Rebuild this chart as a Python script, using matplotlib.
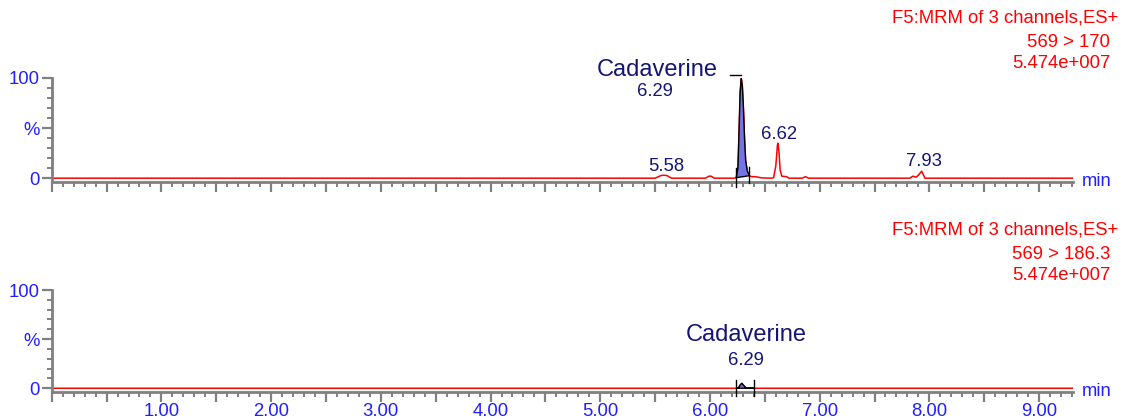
import matplotlib
matplotlib.use('Agg')
import matplotlib.pyplot as plt
from matplotlib.ticker import MultipleLocator

plt.rcParams['font.family'] = ['Liberation Sans', 'DejaVu Sans']

# channel 569 > 170 (top trace)
top_t = [0.00, 5.50, 5.55, 5.58, 5.61, 5.65, 5.96, 5.99, 6.01, 6.04,
         6.22, 6.24, 6.255, 6.265, 6.275, 6.285, 6.295, 6.305, 6.315, 6.325,
         6.34, 6.36, 6.38, 6.41, 6.44, 6.47, 6.56, 6.58, 6.60, 6.615,
         6.62, 6.63, 6.64, 6.655, 6.70, 6.72, 6.84, 6.87, 6.90, 7.82,
         7.85, 7.88, 7.90, 7.93, 7.96, 9.31]
top_y = [0, 0, 2.5, 3, 2.5, 0, 0, 2, 2, 0,
         0, 0.5, 10, 45, 85, 100, 92, 70, 40, 18,
         7, 2.5, 1.5, 1.5, 1.0, 0.3, 0, 0.5, 12, 33,
         35, 25, 8, 2, 1.5, 0, 0, 1.5, 0, 0,
         2, 1, 3, 7, 0, 0]

# channel 569 > 186.3 (bottom trace)
bot_t = [0.00, 6.24, 6.26, 6.27, 6.29, 6.31, 6.33, 6.40, 9.31]
bot_y = [0, 0, 0, 2.5, 5, 2.5, 0, 0, 0]

# integrated peak windows
top_peak = (6.24, 6.36)
bot_peak = (6.24, 6.40)

# peak labels: (time, height, text)
top_labels = [(5.60, 7, '5.58'), (6.63, 39, '6.62'), (7.95, 12, '7.93')]

headers = [('F5:MRM of 3 channels,ES+', '569 > 170', '5.474e+007'),
           ('F5:MRM of 3 channels,ES+', '569 > 186.3', '5.474e+007')]

x_ticks = [1, 2, 3, 4, 5, 6, 7, 8, 9]
x_ticklabels = ['1.00', '2.00', '3.00', '4.00', '5.00', '6.00', '7.00', '8.00', '9.00']

gray = '#808080'
blue = '#1f1fff'
navy = '#151575'
fill_col = '#7474e8'


def style_axes(ax, show_xlabels):
    ax.set_xlim(0, 9.31)
    ax.set_ylim(-3.5, 100)
    for s in ('top', 'right'):
        ax.spines[s].set_visible(False)
    for s in ('left', 'bottom'):
        ax.spines[s].set_color(gray)
        ax.spines[s].set_linewidth(2)
    ax.spines['left'].set_bounds(-3.5, 100)
    ax.xaxis.set_minor_locator(MultipleLocator(0.1))
    ax.set_yticks([0, 50, 100])
    ax.set_yticklabels(['0', '%', '100'])
    ax.yaxis.set_minor_locator(MultipleLocator(10))
    ax.tick_params(which='major', length=7, width=1.6, color=gray,
                   labelcolor=blue, labelsize=13.3, pad=1.5)
    ax.tick_params(which='minor', length=3.3, width=1.4, color=gray)
    ax.tick_params(axis='x', which='both', direction='out')
    majors = [i * 0.5 for i in range(19)]
    ax.set_xticks(majors)
    if show_xlabels:
        ax.set_xticklabels([x_ticklabels[x_ticks.index(int(m))] if m in x_ticks else ''
                            for m in majors])
    else:
        ax.set_xticklabels([])
    ax.text(9.39, -7.5, 'min', color=blue, fontsize=13.3, va='baseline', ha='left', clip_on=False)


def draw_peak(ax, t, y, window):
    wt = [a for a in t if window[0] <= a <= window[1]]
    wy = [b for a, b in zip(t, y) if window[0] <= a <= window[1]]
    ax.fill(wt, wy, facecolor=fill_col, edgecolor='black', linewidth=1, zorder=3)


fig = plt.figure(figsize=(11.22, 4.2), dpi=100)
ax1 = fig.add_axes([0.0461, 0.5674, 0.9103, 0.2469])
ax2 = fig.add_axes([0.0461, 0.0674, 0.9103, 0.2421])

# top panel
ax1.plot(top_t, top_y, color='red', lw=1.1, zorder=2)
draw_peak(ax1, top_t, top_y, top_peak)
ax1.plot([top_peak[0], top_peak[0]], [-9, 10], color='black', lw=1, zorder=4, clip_on=False)
ax1.plot([top_peak[1], top_peak[1]], [-5, 11], color='black', lw=1, zorder=4, clip_on=False)
ax1.plot([6.18, 6.285], [103, 103], color='black', lw=1, clip_on=False)
ax1.text(5.52, 102, 'Cadaverine', color=navy, fontsize=17, ha='center', va='baseline', clip_on=False)
ax1.text(5.50, 82, '6.29', color=navy, fontsize=13.3, ha='center', va='baseline', clip_on=False)
for t, h, s in top_labels:
    ax1.text(t, h, s, color=navy, fontsize=13.3, ha='center', va='baseline', clip_on=False)
style_axes(ax1, False)

# bottom panel
ax2.plot(bot_t, bot_y, color='red', lw=1.1, zorder=2)
draw_peak(ax2, bot_t, bot_y, bot_peak)
ax2.plot([bot_peak[0], bot_peak[0]], [-8, 8], color='black', lw=1, zorder=4, clip_on=False)
ax2.plot([bot_peak[1], bot_peak[1]], [-8, 8], color='black', lw=1, zorder=4, clip_on=False)
ax2.text(6.33, 48, 'Cadaverine', color=navy, fontsize=17, ha='center', va='baseline', clip_on=False)
ax2.text(6.33, 24, '6.29', color=navy, fontsize=13.3, ha='center', va='baseline', clip_on=False)
style_axes(ax2, True)

# red channel headers, in pixel-based figure coords
for (l1, l2, l3), y0 in zip(headers, [22.7, 234.7]):
    fig.text(1118 / 1122, 1 - y0 / 420, l1, color='red', fontsize=13.3, ha='right', va='baseline')
    fig.text(1110 / 1122, 1 - (y0 + 24) / 420, l2, color='red', fontsize=13.3, ha='right', va='baseline')
    fig.text(1110 / 1122, 1 - (y0 + 45.6) / 420, l3, color='red', fontsize=13.3, ha='right', va='baseline')

fig.savefig('out.png', dpi=100)
